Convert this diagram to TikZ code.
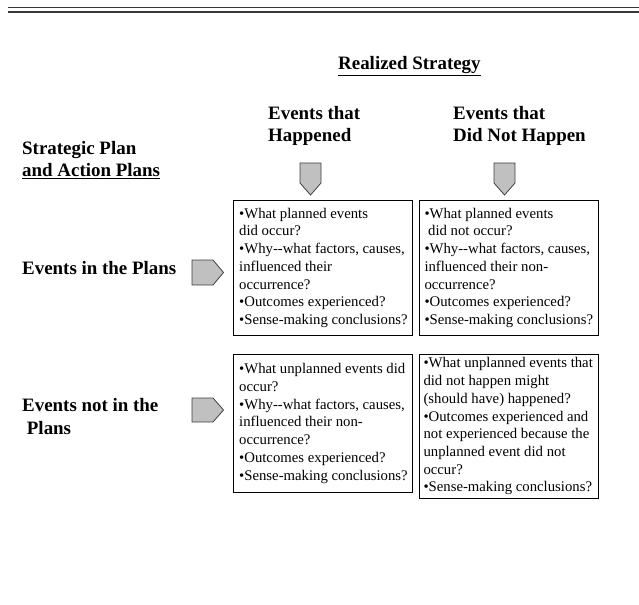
\documentclass[tikz,border=0pt]{standalone}
\usepackage{fontspec}
\setmainfont{Liberation Serif}
\usetikzlibrary{positioning}
\definecolor{tabfill}{RGB}{192,192,192}
\definecolor{rulegray}{RGB}{55,55,55}

\begin{document}
\begin{tikzpicture}[x=1bp,y=-1bp,
  head/.style={font=\fontsize{19}{22.5}\selectfont\bfseries,align=left,inner sep=0pt,anchor=base west},
  qbox/.style={draw=black,line width=0.8bp,minimum width=178.5bp,inner sep=0pt,anchor=north west},
  qtext/.style={align=left,inner sep=0pt,anchor=west,font=\fontsize{14.8}{17.8}\selectfont},
  tab/.style={draw=black!75,fill=tabfill,line width=0.8bp},
  rule/.style={draw=rulegray,line width=1.6bp}
]
\useasboundingbox (0,0) rectangle (639,605);
% double rule on top
\draw[rule] (8,7.5) -- (639,7.5);
\draw[rule] (8,12) -- (639,12);
% column headings
\node[head] (realized) at (338,70) {\underline{Realized Strategy}};
\node[head] (happened) at (268,142) {Events that\\Happened};
\node[head] (nothappened) at (453,142) {Events that\\Did Not Happen};
% row headings
\node[head] (strategic) at (22,177) {Strategic Plan\\\underline{and Action Plans}};
\node[head] (inplans) at (22,274) {Events in the Plans};
\node[head] (notinplans) at (22,434) {Events not in the\\\hspace*{0.25em}Plans};
% the four question boxes
\node[qbox,minimum height=135bp] (q11) at (233,200) {};
\node[qbox,minimum height=135bp,right=7bp of q11.north east,anchor=north west] (q12) {};
\node[qbox,minimum height=138bp] (q21) at (233,354) {};
\node[qbox,minimum height=144bp,right=7bp of q21.north east,anchor=north west] (q22) {};
\node[qtext,right=6bp of q11.west] (t11) {%
  •What planned events\\did occur?\\•Why-{}-what factors, causes,\\influenced their\\occurrence?\\•Outcomes experienced?\\•Sense-making conclusions?};
\node[qtext,right=5bp of q12.west] (t12) {%
  •What planned events\\\hspace*{0.25em}did not occur?\\•Why-{}-what factors, causes,\\influenced their non-\\occurrence?\\•Outcomes experienced?\\•Sense-making conclusions?};
\node[qtext,right=6bp of q21.west] (t21) {%
  •What unplanned events did\\occur?\\•Why-{}-what factors, causes,\\influenced their non-\\occurrence?\\•Outcomes experienced?\\•Sense-making conclusions?};
\node[qtext,right=4bp of q22.west] (t22) {%
  •What unplanned events that\\did not happen might\\(should have) happened?\\•Outcomes experienced and\\not experienced because the\\unplanned event did not\\occur?\\•Sense-making conclusions?};
% grey tabs
\draw[tab] (300,163) -- (321,163) -- (321,183) -- (310.5,195) -- (300,183) -- cycle;
\draw[tab] (494,163) -- (515,163) -- (515,183) -- (504.5,195) -- (494,183) -- cycle;
\draw[tab] (192,260) -- (213,260) -- (223.5,272.5) -- (213,285) -- (192,285) -- cycle;
\draw[tab] (192,398) -- (213,398) -- (223.5,410) -- (213,422) -- (192,422) -- cycle;
\end{tikzpicture}
\end{document}
